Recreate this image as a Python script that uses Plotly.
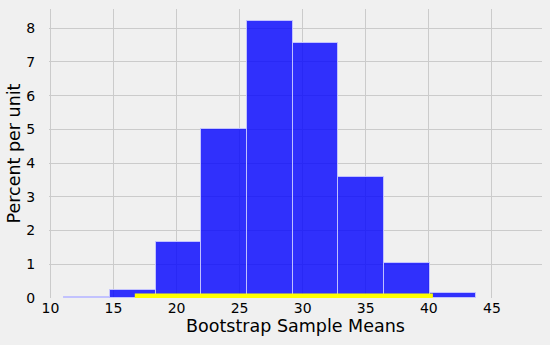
import plotly.graph_objects as go

# Histogram bin edges and heights (percent per unit)
bin_edges = [11.1, 14.72, 18.34, 21.97, 25.59, 29.21, 32.83, 36.46, 40.08, 43.7]
heights = [0.04, 0.25, 1.65, 5.01, 8.20, 7.56, 3.60, 1.05, 0.15]

# Interval shown as yellow line on the x axis
interval = [16.69, 40.32]

x_ticks = [10, 15, 20, 25, 30, 35, 40, 45]
y_ticks = [0, 1, 2, 3, 4, 5, 6, 7, 8]

centers = [(a + b) / 2 for a, b in zip(bin_edges[:-1], bin_edges[1:])]
widths = [b - a for a, b in zip(bin_edges[:-1], bin_edges[1:])]

fig = go.Figure()
fig.add_trace(go.Bar(
    x=centers, y=heights, width=widths,
    marker=dict(color="rgba(0,0,255,0.8)",
                line=dict(color="rgba(200,200,255,0.9)", width=1)),
    showlegend=False, hoverinfo="skip",
))
fig.add_trace(go.Scatter(
    x=interval, y=[0, 0], mode="lines",
    line=dict(color="yellow", width=9),
    showlegend=False, hoverinfo="skip",
))

font = "DejaVu Sans"
fig.update_layout(
    width=550, height=345,
    margin=dict(l=49, r=8, t=9, b=47),
    paper_bgcolor="#f0f0f0", plot_bgcolor="#f0f0f0",
    font=dict(family=font, color="black", size=14),
    bargap=0,
)
fig.update_xaxes(
    range=[9.89, 48.97], tickvals=x_ticks, ticktext=[str(v) for v in x_ticks],
    showgrid=True, gridcolor="#cbcbcb", gridwidth=1, zeroline=False,
    showline=False, ticks="", ticklen=0,
    tickfont=dict(size=14), automargin=False,
    title=dict(text="Bootstrap Sample Means", font=dict(size=17.5), standoff=3),
)
fig.update_yaxes(
    range=[0, 8.57], tickvals=y_ticks, ticktext=[str(v) for v in y_ticks],
    showgrid=True, gridcolor="#cbcbcb", gridwidth=1, zeroline=False,
    showline=False, ticks="outside", ticklen=10, tickcolor="rgba(0,0,0,0)",
    tickfont=dict(size=14), automargin=False,
    title=dict(text="Percent per unit", font=dict(size=17.5), standoff=1),
)

fig.write_html("out.html")
